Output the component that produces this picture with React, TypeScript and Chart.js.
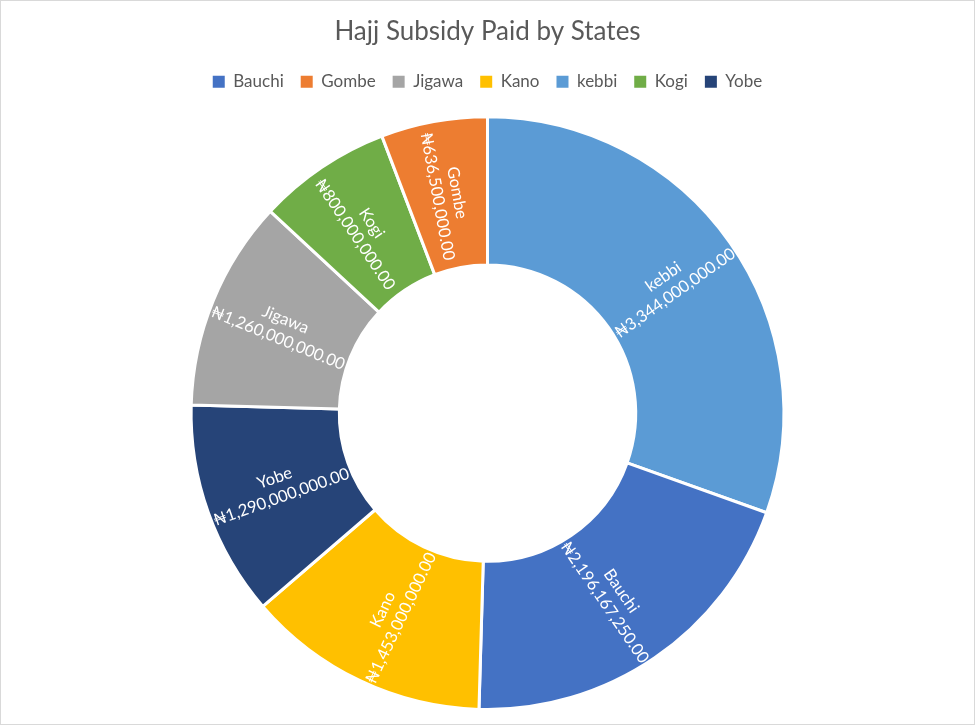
import React, { useEffect, useRef } from 'react';
import { Chart, registerables } from 'chart.js';

Chart.register(...registerables);

// slice order as drawn (clockwise from 12 o'clock)
const states = ['kebbi', 'Bauchi', 'Kano', 'Yobe', 'Jigawa', 'Kogi', 'Gombe'];
const subsidy = [3344000000, 2196167250, 1453000000, 1290000000, 1260000000, 800000000, 636500000];
const sliceColors = ['#5B9BD5', '#4472C4', '#FFC000', '#264478', '#A5A5A5', '#70AD47', '#ED7D31'];

const FONT = 'Lato, "Open Sans", sans-serif';

const naira = (v: number) =>
    '\u20A6' + v.toLocaleString('en-US', { minimumFractionDigits: 2, maximumFractionDigits: 2 });

// draws "name / value" inside each slice, rotated along the radius
const sliceLabels = {
    id: 'sliceLabels',
    afterDatasetsDraw(chart: any) {
        const { ctx } = chart;
        const meta = chart.getDatasetMeta(0);
        ctx.save();
        ctx.fillStyle = '#ffffff';
        ctx.font = `16.5px ${FONT}`;
        ctx.textAlign = 'center';
        ctx.textBaseline = 'middle';
        meta.data.forEach((arc: any, i: number) => {
            const { x, y, startAngle, endAngle, innerRadius, outerRadius } = arc.getProps(
                ['x', 'y', 'startAngle', 'endAngle', 'innerRadius', 'outerRadius'],
                true
            );
            const mid = (startAngle + endAngle) / 2;
            const r = (innerRadius + outerRadius) / 2;
            let rot = mid;
            if (Math.cos(mid) < 0) rot += Math.PI;
            ctx.save();
            ctx.translate(x + Math.cos(mid) * r, y + Math.sin(mid) * r);
            ctx.rotate(rot);
            ctx.fillText(states[i], 0, -10);
            ctx.fillText(naira(subsidy[i]), 0, 10);
            ctx.restore();
        });
        ctx.restore();
    },
};

// extra space below the legend
const legendGap = {
    id: 'legendGap',
    beforeInit(chart: any) {
        const origFit = chart.legend.fit;
        chart.legend.fit = function fit() {
            origFit.bind(chart.legend)();
            this.height += 15;
        };
    },
};

const defaultLabels = (Chart as any).overrides.doughnut.plugins.legend.labels.generateLabels;

const App: React.FC = () => {
    const canvasRef = useRef<HTMLCanvasElement | null>(null);

    useEffect(() => {
        document.body.style.margin = '0';
        if (!canvasRef.current) return;
        const chart = new Chart(canvasRef.current, {
            type: 'doughnut',
            data: {
                labels: states,
                datasets: [
                    {
                        data: subsidy,
                        backgroundColor: sliceColors,
                        borderColor: '#ffffff',
                        borderWidth: 3,
                    },
                ],
            },
            options: {
                responsive: true,
                maintainAspectRatio: false,
                animation: false,
                cutout: '50%',
                layout: { padding: { top: 0, bottom: 14, left: 0, right: 0 } },
                plugins: {
                    title: {
                        display: true,
                        text: 'Hajj Subsidy Paid by States',
                        color: '#595959',
                        font: { family: FONT, size: 26, weight: 'normal' },
                        padding: { top: 16, bottom: 9 },
                    },
                    legend: {
                        position: 'top',
                        labels: {
                            color: '#595959',
                            font: { family: FONT, size: 17 },
                            boxWidth: 12,
                            boxHeight: 12,
                            padding: 17,
                            generateLabels: (c: any) =>
                                defaultLabels(c).map((item: any) => ({ ...item, lineWidth: 0 })),
                            sort: (a: any, b: any) =>
                                a.text.localeCompare(b.text, 'en', { sensitivity: 'base' }),
                        },
                    },
                    tooltip: { enabled: false },
                },
            },
            plugins: [sliceLabels, legendGap],
        });
        return () => chart.destroy();
    }, []);

    return (
        <div
            style={{
                position: 'absolute',
                left: 0,
                top: 0,
                width: 975,
                height: 725,
                background: '#ffffff',
                boxShadow: 'inset 0 0 0 1px #d9d9d9',
            }}
        >
            <canvas ref={canvasRef}></canvas>
        </div>
    );
};

export default App;
